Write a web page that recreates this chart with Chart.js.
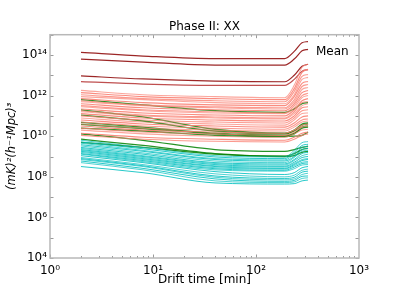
<!DOCTYPE html>
<html>
<head>
<meta charset="utf-8">
<script src="https://cdn.jsdelivr.net/npm/chart.js@4.4.1/dist/chart.umd.min.js"></script>
<style>
  body { margin: 0; background: #fff; }
  canvas { display: block; }
</style>
</head>
<body>
<canvas id="graficoDrift" width="399" height="290"></canvas>
<script>
// ---- dados (potência vs tempo de drift)
const driftTime = [2, 8, 40, 190, 235, 280, 320];

const xTickValues = [1, 10, 100, 1000];
const xTickLabels = ['10⁰', '10¹', '10²', '10³'];
const yTickValues = [1e4, 1e6, 1e8, 1e10, 1e12, 1e14];
const yTickLabels = ['10⁴', '10⁶', '10⁸', '10¹⁰', '10¹²', '10¹⁴'];

const redSeries = [
    [1.8e12, 1.1e12, 8.9e11, 7.9e11, 3.2e12, 2.5e13, 3.5e13],
    [1.4e12, 8.9e11, 7.1e11, 6.3e11, 2.2e12, 1.4e13, 2.0e13],
    [1.1e12, 7.1e11, 5.6e11, 5.0e11, 1.6e12, 8.9e12, 1.1e13],
    [8.9e11, 6.3e11, 4.5e11, 4.0e11, 1.1e12, 6.3e12, 7.9e12],
    [7.1e11, 4.5e11, 3.5e11, 3.2e11, 8.9e11, 4.0e12, 5.0e12],
    [5.6e11, 3.5e11, 2.8e11, 2.5e11, 6.3e11, 2.8e12, 3.5e12],
    [5.0e11, 3.2e11, 2.5e11, 2.2e11, 5.0e11, 2.0e12, 2.5e12],
    [4.0e11, 2.5e11, 2.0e11, 1.8e11, 4.0e11, 1.4e12, 1.8e12],
    [3.2e11, 2.0e11, 1.6e11, 1.4e11, 3.2e11, 1.0e12, 1.3e12],
    [2.8e11, 1.8e11, 1.4e11, 1.3e11, 2.5e11, 7.9e11, 1.0e12],
    [2.2e11, 1.4e11, 1.1e11, 1.0e11, 2.0e11, 5.6e11, 7.1e11],
    [1.8e11, 1.1e11, 8.9e10, 7.9e10, 1.6e11, 4.5e11, 5.0e11],
    [1.6e11, 1.0e11, 7.9e10, 7.1e10, 1.3e11, 3.2e11, 4.0e11],
    [1.3e11, 7.9e10, 6.3e10, 5.6e10, 1.0e11, 2.5e11, 2.8e11],
    [1.0e11, 6.3e10, 5.0e10, 4.5e10, 7.9e10, 1.8e11, 2.0e11],
    [7.9e10, 5.0e10, 4.0e10, 3.5e10, 6.3e10, 1.3e11, 1.4e11],
    [6.3e10, 4.0e10, 3.2e10, 2.8e10, 4.5e10, 8.9e10, 1.0e11],
    [5.0e10, 3.2e10, 2.5e10, 2.2e10, 3.5e10, 6.3e10, 7.1e10],
    [4.0e10, 2.5e10, 2.0e10, 1.8e10, 2.8e10, 5.0e10, 5.6e10],
    [3.2e10, 2.0e10, 1.6e10, 1.4e10, 2.0e10, 3.5e10, 4.0e10],
    [2.5e10, 1.6e10, 1.3e10, 1.1e10, 1.6e10, 2.8e10, 3.2e10],
    [2.0e10, 1.3e10, 1.0e10, 8.9e9, 1.3e10, 2.0e10, 2.2e10],
    [1.4e10, 8.9e9, 7.1e9, 6.3e9, 8.9e9, 1.4e10, 1.6e10],
    [1.1e10, 7.1e9, 5.6e9, 5.2e9, 7.1e9, 1.1e10, 1.3e10]
];

const cyanSeries = [
    [6.3e9, 2.8e9, 1.1e9, 9.5e8, 2.0e9, 4.8e9, 5.4e9],
    [5.2e9, 2.4e9, 9.5e8, 7.9e8, 1.6e9, 3.5e9, 4.0e9],
    [4.5e9, 2.0e9, 7.9e8, 6.8e8, 1.3e9, 2.8e9, 3.2e9],
    [3.8e9, 1.8e9, 7.1e8, 6.0e8, 1.0e9, 2.2e9, 2.5e9],
    [3.3e9, 1.5e9, 6.0e8, 5.0e8, 8.9e8, 1.8e9, 2.0e9],
    [2.8e9, 1.3e9, 5.0e8, 4.3e8, 7.1e8, 1.4e9, 1.6e9],
    [2.5e9, 1.1e9, 4.5e8, 3.8e8, 6.3e8, 1.1e9, 1.3e9],
    [2.2e9, 1.0e9, 4.0e8, 3.3e8, 5.2e8, 8.9e8, 1.0e9],
    [2.0e9, 8.9e8, 3.5e8, 3.0e8, 4.5e8, 7.1e8, 7.9e8],
    [1.8e9, 7.9e8, 3.2e8, 2.6e8, 4.0e8, 6.3e8, 7.1e8],
    [1.6e9, 7.1e8, 2.8e8, 2.4e8, 3.5e8, 5.2e8, 5.6e8],
    [1.4e9, 6.3e8, 2.5e8, 2.1e8, 3.0e8, 4.5e8, 4.8e8],
    [1.3e9, 5.6e8, 2.2e8, 1.9e8, 2.5e8, 3.8e8, 4.0e8],
    [1.1e9, 5.0e8, 1.8e8, 1.3e8, 1.6e8, 2.8e8, 3.2e8],
    [8.9e8, 4.0e8, 1.4e8, 1.0e8, 1.2e8, 2.1e8, 2.4e8],
    [7.9e8, 3.5e8, 1.1e8, 8.3e7, 9.5e7, 1.7e8, 1.9e8],
    [7.1e8, 3.2e8, 9.5e7, 7.1e7, 7.9e7, 1.3e8, 1.5e8],
    [6.0e8, 2.6e8, 7.9e7, 6.0e7, 6.6e7, 1.05e8, 1.1e8],
    [5.0e8, 2.2e8, 6.3e7, 5.2e7, 5.6e7, 8.3e7, 8.9e7],
    [3.2e8, 1.6e8, 5.0e7, 4.4e7, 4.6e7, 6.3e7, 6.9e7]
];

const greenSeries = [
    [6.3e11, 3.5e11, 1.8e11, 1.5e11, 2.2e11, 4.0e11, 4.5e11],
    [2.0e11, 8.9e10, 2.2e10, 1.4e10, 2.0e10, 4.0e10, 4.5e10],
    [1.1e11, 5.6e10, 1.8e10, 1.3e10, 1.8e10, 3.5e10, 4.0e10],
    [4.8e10, 2.8e10, 1.4e10, 1.1e10, 1.4e10, 2.8e10, 3.2e10],
    [3.8e10, 2.4e10, 1.3e10, 1.0e10, 1.3e10, 2.5e10, 2.8e10],
    [2.5e10, 1.8e10, 1.1e10, 9.5e9, 1.0e10, 1.1e10, 1.6e10],
    [1.3e10, 6.3e9, 2.2e9, 1.8e9, 2.2e9, 2.8e9, 3.2e9],
    [7.1e9, 3.5e9, 1.4e9, 1.05e9, 1.4e9, 2.2e9, 2.5e9],
    [5.0e9, 2.8e9, 1.3e9, 1.0e9, 1.1e9, 1.6e9, 1.8e9]
];

const darkRedSeries = [
    [1.35e14, 8.9e13, 6.6e13, 6.6e13, 1.5e14, 4.0e14, 4.6e14],
    [6.3e13, 4.5e13, 3.2e13, 3.2e13, 6.3e13, 1.6e14, 1.9e14],
    [9.3e12, 6.6e12, 5.2e12, 4.8e12, 1.0e13, 2.8e13, 3.5e13],
    [4.9e12, 3.7e12, 3.2e12, 3.2e12, 6.3e12, 1.6e13, 1.9e13]
];

const fonte = 'DejaVu Sans';

function paraPontos(valores) {
    return valores.map((v, i) => ({ x: driftTime[i], y: v }));
}

function montaDataset(valores, cor, largura) {
    return {
        data: paraPontos(valores),
        borderColor: cor,
        borderWidth: largura,
        pointRadius: 0,
        fill: false,
        cubicInterpolationMode: 'monotone'
    };
}

const alphasVermelho = [0.7, 0.9, 0.8];
const datasets = [];
redSeries.forEach((s, i) => datasets.push(montaDataset(s, `rgba(250,128,114,${alphasVermelho[i % 3]})`, 1.1)));
cyanSeries.forEach((s, i) => datasets.push(montaDataset(s, i % 2 ? 'rgba(0,191,191,0.85)' : 'rgba(0,191,191,0.7)', 1)));
greenSeries.forEach(s => datasets.push(montaDataset(s, 'rgba(0,128,0,0.85)', 1.3)));
darkRedSeries.forEach((s, i) => datasets.push(montaDataset(s, i === 3 ? 'rgba(170,20,20,0.75)' : 'rgba(139,0,0,0.85)', 1.2)));

// ---- moldura cinza, ticks para dentro e texto "Mean"
const molduraPlugin = {
    id: 'moldura',
    afterDatasetsDraw(chart) {
        const { ctx, chartArea: a, scales: { x, y } } = chart;
        ctx.save();
        ctx.strokeStyle = '#9a9a9a';
        ctx.lineWidth = 1;
        ctx.beginPath();
        for (let d = 0; d < 3; d++) {
            for (let m = 1; m <= 9; m++) {
                const px = Math.round(x.getPixelForValue(m * Math.pow(10, d))) + 0.5;
                const len = m === 1 ? 3.5 : 2;
                ctx.moveTo(px, a.bottom); ctx.lineTo(px, a.bottom - len);
                ctx.moveTo(px, a.top); ctx.lineTo(px, a.top + len);
            }
        }
        for (let e = 4; e <= 15; e++) {
            const py = Math.round(y.getPixelForValue(Math.pow(10, e))) + 0.5;
            ctx.moveTo(a.left, py); ctx.lineTo(a.left + 3.5, py);
            ctx.moveTo(a.right, py); ctx.lineTo(a.right - 3.5, py);
        }
        ctx.stroke();

        ctx.strokeStyle = '#b8b8b8';
        ctx.lineWidth = 1.5;
        ctx.strokeRect(a.left, a.top, a.right - a.left, a.bottom - a.top);

        ctx.fillStyle = '#000';
        ctx.font = `12px "${fonte}"`;
        ctx.textAlign = 'left';
        ctx.textBaseline = 'middle';
        ctx.fillText('Mean', a.right - 43, a.top + 17);
        ctx.restore();
    }
};

const ctx = document.getElementById('graficoDrift').getContext('2d');
let graficoDrift = new Chart(ctx, {
    type: 'line',
    data: { datasets: datasets },
    plugins: [molduraPlugin],
    options: {
        responsive: false,
        devicePixelRatio: 1,
        animation: false,
        layout: { padding: { left: 0, right: 40, top: 0, bottom: 0 } },
        plugins: {
            legend: { display: false },
            tooltip: { enabled: false },
            title: {
                display: true,
                fullSize: false,
                text: 'Phase II: XX',
                color: '#000',
                font: { family: fonte, size: 12, weight: 'normal' },
                padding: { top: 20, bottom: 0.3 }
            }
        },
        scales: {
            x: {
                type: 'logarithmic',
                min: 1,
                max: 1000,
                grid: { display: false, drawTicks: false, tickLength: 0 },
                border: { display: false },
                afterBuildTicks: s => { s.ticks = xTickValues.map(v => ({ value: v })); },
                afterFit: s => { s.height = 32; },
                ticks: {
                    autoSkip: false,
                    maxRotation: 0,
                    padding: 6,
                    color: '#000',
                    font: { family: fonte, size: 12 },
                    callback: (v, i) => xTickLabels[i]
                },
                title: {
                    display: true,
                    text: 'Drift time [min]',
                    color: '#000',
                    font: { family: fonte, size: 12 },
                    padding: { top: 0, bottom: 3 }
                }
            },
            y: {
                type: 'logarithmic',
                min: 1e4,
                max: 1e15,
                grid: { display: false, drawTicks: false, tickLength: 0 },
                border: { display: false },
                afterBuildTicks: s => { s.ticks = yTickValues.map(v => ({ value: v })); },
                afterFit: s => { s.width = 50; },
                ticks: {
                    autoSkip: false,
                    padding: 3,
                    color: '#000',
                    font: { family: fonte, size: 12 },
                    callback: (v, i) => yTickLabels[i]
                },
                title: {
                    display: true,
                    text: '(mK)²(h⁻¹Mpc)³',
                    color: '#000',
                    font: { family: fonte, size: 11.5, style: 'italic' },
                    padding: { top: 5, bottom: 0 }
                }
            }
        }
    }
});
</script>
</body>
</html>
